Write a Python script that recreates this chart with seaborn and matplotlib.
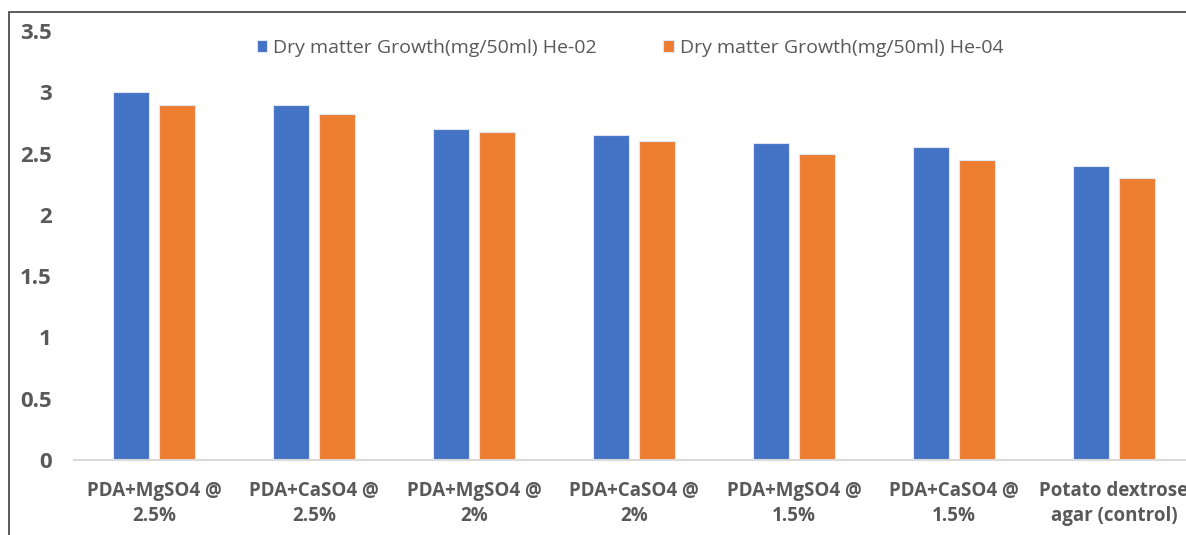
import pandas as pd
import matplotlib.pyplot as plt
import seaborn as sns
from matplotlib.patches import Rectangle

# kategoriler ve seri degerleri
categories = [
    "PDA+MgSO4 @\n2.5%",
    "PDA+CaSO4 @\n2.5%",
    "PDA+MgSO4 @\n2%",
    "PDA+CaSO4 @\n2%",
    "PDA+MgSO4 @\n1.5%",
    "PDA+CaSO4 @\n1.5%",
    "Potato dextrose\nagar (control)",
]
he02 = [3.0, 2.9, 2.7, 2.65, 2.59, 2.55, 2.4]
he04 = [2.9, 2.82, 2.68, 2.6, 2.5, 2.45, 2.3]
series_names = ["Dry matter Growth(mg/50ml) He-02", "Dry matter Growth(mg/50ml) He-04"]
y_ticks = [0, 0.5, 1, 1.5, 2, 2.5, 3, 3.5]

df = pd.DataFrame({
    "kategori": categories * 2,
    "deger": he02 + he04,
    "seri": [series_names[0]] * len(categories) + [series_names[1]] * len(categories),
})

sns.set_theme(style="white")
plt.rcParams["font.family"] = ["Open Sans", "DejaVu Sans"]
text_color = "#595959"

fig = plt.figure(figsize=(11.86, 5.35), dpi=100)
ax = fig.add_axes([74 / 1186, 1 - 460 / 535, 1120 / 1186, 429 / 535])

sns.barplot(data=df, x="kategori", y="deger", hue="seri", ax=ax,
            palette=["#4472C4", "#ED7D31"], width=0.575, gap=0.2,
            edgecolor="#dfe6f3", linewidth=0.8, saturation=1)

ax.set_xlim(-0.5, len(categories) - 0.5)
ax.set_ylim(0, 3.5)
ax.set_yticks(y_ticks)
ax.set_yticklabels([f"{t:g}" for t in y_ticks], fontsize=16, fontweight="bold", color=text_color)
ax.set_xticks(range(len(categories)))
ax.set_xticklabels(categories, fontsize=13.5, fontweight="bold", color=text_color, linespacing=1.35)
ax.tick_params(axis="y", length=0, pad=16)
ax.tick_params(axis="x", length=0, pad=15)
ax.set_xlabel("")
ax.set_ylabel("")

for side in ["top", "right", "left"]:
    ax.spines[side].set_visible(False)
ax.spines["bottom"].set_color("#d9d9d9")
ax.spines["bottom"].set_linewidth(1.5)

leg = ax.legend(loc="center", bbox_to_anchor=(630 / 1186, 1 - 48 / 535),
                bbox_transform=fig.transFigure, ncol=2, frameon=False,
                fontsize=14, handlelength=0.55, handleheight=0.55,
                handletextpad=0.3, columnspacing=3.4)
for t in leg.get_texts():
    t.set_color(text_color)

# grafik cercevesi (kirpilmis)
fig.patches.append(Rectangle((9 / 1186, -0.1), 1.2, 1 - 12 / 535 + 0.1,
                             transform=fig.transFigure, fill=False,
                             edgecolor="#404040", linewidth=1.2, zorder=0))

fig.savefig("out.png", dpi=100)
